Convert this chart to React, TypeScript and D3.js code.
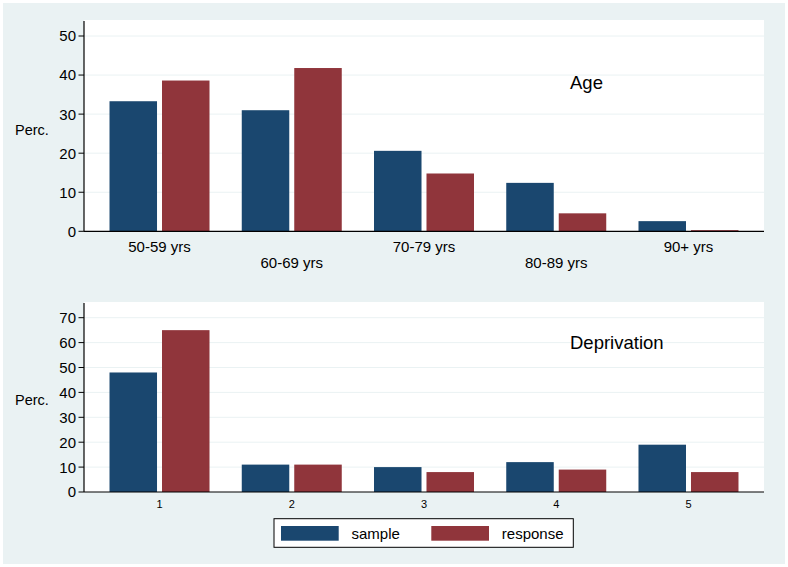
import React from "react";
import * as d3 from "d3";

const ageCategories = ["50-59 yrs", "60-69 yrs", "70-79 yrs", "80-89 yrs", "90+ yrs"];
const ageSample = [33.3, 31.0, 20.6, 12.4, 2.6];
const ageResponse = [38.6, 41.8, 14.8, 4.6, 0.3];
const ageTicks = [0, 10, 20, 30, 40, 50];

const depCategories = ["1", "2", "3", "4", "5"];
const depSample = [48, 11, 10, 12, 19];
const depResponse = [65, 11, 8, 9, 8];
const depTicks = [0, 10, 20, 30, 40, 50, 60, 70];

const seriesNames = ["sample", "response"];
const seriesColors = ["#1a476f", "#90353b"];

const FONT = "'Liberation Sans', Arial, Helvetica, sans-serif";
const BG = "#eaf2f3";

type PanelProps = {
  categories: string[];
  sample: number[];
  response: number[];
  ticks: number[];
  yTop: number; // plot top pixel
  y0: number; // pixel of value 0
  yMaxTick: number;
  yMaxPix: number;
  title: string;
  titleY: number;
  labelSize: number;
  stagger: boolean;
  labelY1: number;
  labelY2: number;
  percY: number;
};

const L = 84;
const R = 764;

function Panel(p: PanelProps) {
  const x = d3.scaleBand<string>().domain(p.categories).range([L, R]).paddingInner(0).paddingOuter(0.071);
  const y = d3.scaleLinear().domain([0, p.yMaxTick]).range([p.y0, p.yMaxPix]);
  const bw = x.bandwidth();
  const half = (50 / 132.25) * bw;
  const sub = d3
    .scaleBand<string>()
    .domain(seriesNames)
    .range([bw / 2 - half, bw / 2 + half])
    .paddingInner(0.095)
    .paddingOuter(0);
  const seriesVals = [p.sample, p.response];
  return (
    <g>
      <rect x={L} y={p.yTop} width={R - L} height={p.y0 - p.yTop} fill="#ffffff" />
      {p.ticks.map((t) => (
        <g key={t}>
          {t > 0 && <line x1={L} x2={R} y1={y(t)} y2={y(t)} stroke={BG} strokeWidth={1} />}
          <line x1={78.5} x2={L} y1={y(t)} y2={y(t)} stroke="#000" strokeWidth={1} />
          <text x={76} y={y(t)} dy="0.36em" textAnchor="end" fontSize={15} fontFamily={FONT} fill="#000">
            {t}
          </text>
        </g>
      ))}
      {seriesNames.map((s, si) =>
        p.categories.map((c, ci) => {
          const v = seriesVals[si][ci];
          const bx = (x(c) as number) + (sub(s) as number);
          return (
            <rect
              key={s + c}
              x={bx}
              y={y(v)}
              width={sub.bandwidth()}
              height={p.y0 - y(v)}
              fill={seriesColors[si]}
            />
          );
        })
      )}
      <line x1={L} x2={L} y1={p.yTop + 1} y2={p.y0} stroke="#000" strokeWidth={1.2} />
      <line x1={L} x2={R} y1={p.y0} y2={p.y0} stroke="#000" strokeWidth={1.2} />
      {p.categories.map((c, ci) => (
        <text
          key={c}
          x={(x(c) as number) + bw / 2}
          y={p.stagger && ci % 2 === 1 ? p.labelY2 : p.labelY1}
          textAnchor="middle"
          fontSize={p.labelSize}
          fontFamily={FONT}
          fill="#000"
        >
          {c}
        </text>
      ))}
      <text x={15} y={p.percY} fontSize={14.5} fontFamily={FONT} fill="#000">
        Perc.
      </text>
      <text x={570} y={p.titleY} fontSize={18.5} fontFamily={FONT} fill="#000">
        {p.title}
      </text>
    </g>
  );
}

export default function App() {
  return (
    <svg width={788} height={567} style={{ position: "absolute", left: 0, top: 0 }}>
      <rect x={0} y={0} width={788} height={567} fill="#ffffff" />
      <rect x={3} y={3} width={782} height={561} fill={BG} />
      <Panel
        categories={ageCategories}
        sample={ageSample}
        response={ageResponse}
        ticks={ageTicks}
        yTop={20}
        y0={231.3}
        yMaxTick={50}
        yMaxPix={36}
        title="Age"
        titleY={89.3}
        labelSize={15}
        stagger={true}
        labelY1={252}
        labelY2={268}
        percY={135}
      />
      <Panel
        categories={depCategories}
        sample={depSample}
        response={depResponse}
        ticks={depTicks}
        yTop={302}
        y0={492}
        yMaxTick={70}
        yMaxPix={317.7}
        title="Deprivation"
        titleY={349}
        labelSize={11}
        stagger={false}
        labelY1={507.5}
        labelY2={507.5}
        percY={405}
      />
      <g>
        <rect x={274} y={518.7} width={299.3} height={28.6} fill="#ffffff" stroke="#000" strokeWidth={1} />
        {seriesNames.map((s, i) => {
          const sx = i === 0 ? 281 : 431.3;
          return (
            <g key={s}>
              <rect x={sx} y={526} width={57.7} height={14.7} fill={seriesColors[i]} />
              <text x={sx + 70.5} y={539} fontSize={15} fontFamily={FONT} fill="#000">
                {s}
              </text>
            </g>
          );
        })}
      </g>
    </svg>
  );
}
